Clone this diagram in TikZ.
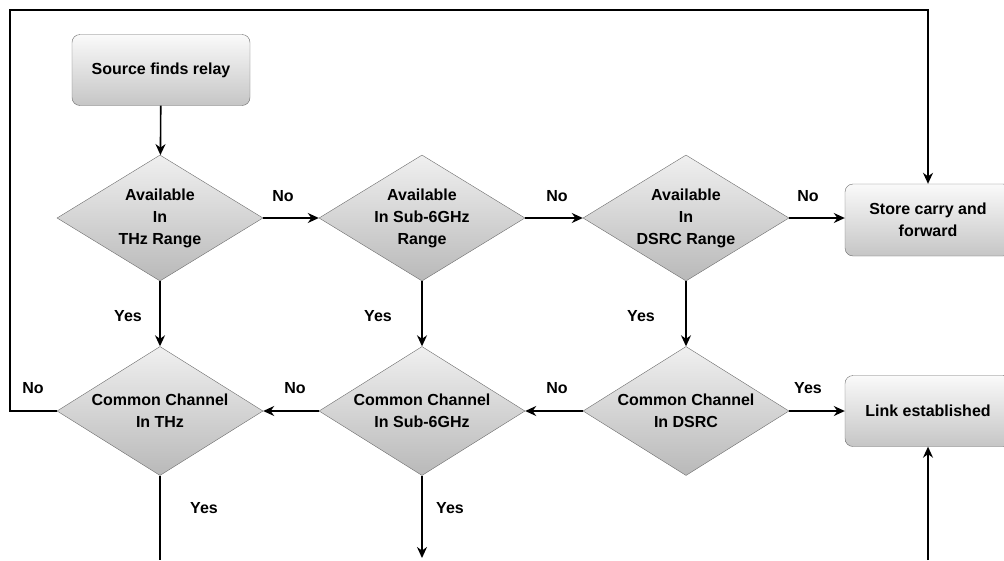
\documentclass[tikz,border=0pt]{standalone}
\usepackage{fontspec}
\setmainfont{Liberation Sans}
\usetikzlibrary{shapes.geometric,arrows.meta}

\begin{document}
\begin{tikzpicture}[x=1pt,y=-1pt,
		font=\fontsize{16}{22}\selectfont\bfseries,
		stepbox/.style={draw=gray!85!black, rounded corners=8pt, top color=gray!4, bottom color=gray!45, minimum width=178pt, minimum height=71pt, align=center, inner sep=0pt},
		decision/.style={diamond, aspect=1.6, draw=gray!85!black, top color=gray!12, bottom color=gray!55, minimum width=206pt, minimum height=126pt, inner sep=0pt, align=center},
		lbl/.style={inner sep=0pt},
		line/.style={line width=1.6pt},
		arr/.style={line, -{Stealth[length=11pt,width=10pt]}}]
	\useasboundingbox (0,0) rectangle (1004,560);

	\node[stepbox] (src) at (161,70) {Source finds relay};
	\node[stepbox, minimum width=166pt, minimum height=72pt] (store) at (928,220) {Store carry and\\forward};
	\node[stepbox, minimum width=166pt, minimum height=71pt] (link) at (928,411) {Link established};

	% availability checks
	\node[decision] (athz) at (160,218) {Available\\In\\THz Range};
	\node[decision] (asub) at (422,218) {Available\\In Sub-6GHz\\Range};
	\node[decision] (adsrc) at (686,218) {Available\\In\\DSRC Range};

	% common channel checks
	\node[decision, minimum height=129pt] (cthz) at (160,411) {Common Channel\\In THz};
	\node[decision, minimum height=129pt] (csub) at (422,411) {Common Channel\\In Sub-6GHz};
	\node[decision, minimum height=129pt] (cdsrc) at (686,411) {Common Channel\\In DSRC};

	\coordinate (loopL) at (10,10);
	\coordinate (loopR) at (928,10);
	\coordinate (outT) at (160,560);
	\coordinate (outS) at (422,558);
	\coordinate (inL) at (928,560);

	\draw[arr] (src) -- (athz);
	\draw[arr] (athz) -- (asub);
	\draw[arr] (asub) -- (adsrc);
	\draw[arr] (adsrc.east) -- (adsrc.east -| store.west);
	\draw[arr] (athz) -- (cthz);
	\draw[arr] (asub) -- (csub);
	\draw[arr] (adsrc) -- (cdsrc);
	\draw[arr] (cdsrc) -- (csub);
	\draw[arr] (csub) -- (cthz);
	\draw[arr] (cdsrc) -- (link);
	\draw[arr] (cthz.west) -| (loopL) -- (loopR) -- (store.north);
	\draw[line] (cthz.south) -- (outT);
	\draw[arr] (csub.south) -- (outS);
	\draw[arr] (inL) -- (link.south);

	\node[lbl] (no1) at (283,196) {No};
	\node[lbl] (no2) at (557,196) {No};
	\node[lbl] (no3) at (808,196) {No};
	\node[lbl] (yes1) at (128,316) {Yes};
	\node[lbl] (yes2) at (378,316) {Yes};
	\node[lbl] (yes3) at (641,316) {Yes};
	\node[lbl] (no4) at (33,388) {No};
	\node[lbl] (no5) at (295,388) {No};
	\node[lbl] (no6) at (557,388) {No};
	\node[lbl] (yes4) at (808,388) {Yes};
	\node[lbl] (yes5) at (204,508) {Yes};
	\node[lbl] (yes6) at (450,508) {Yes};
\end{tikzpicture}
\end{document}
